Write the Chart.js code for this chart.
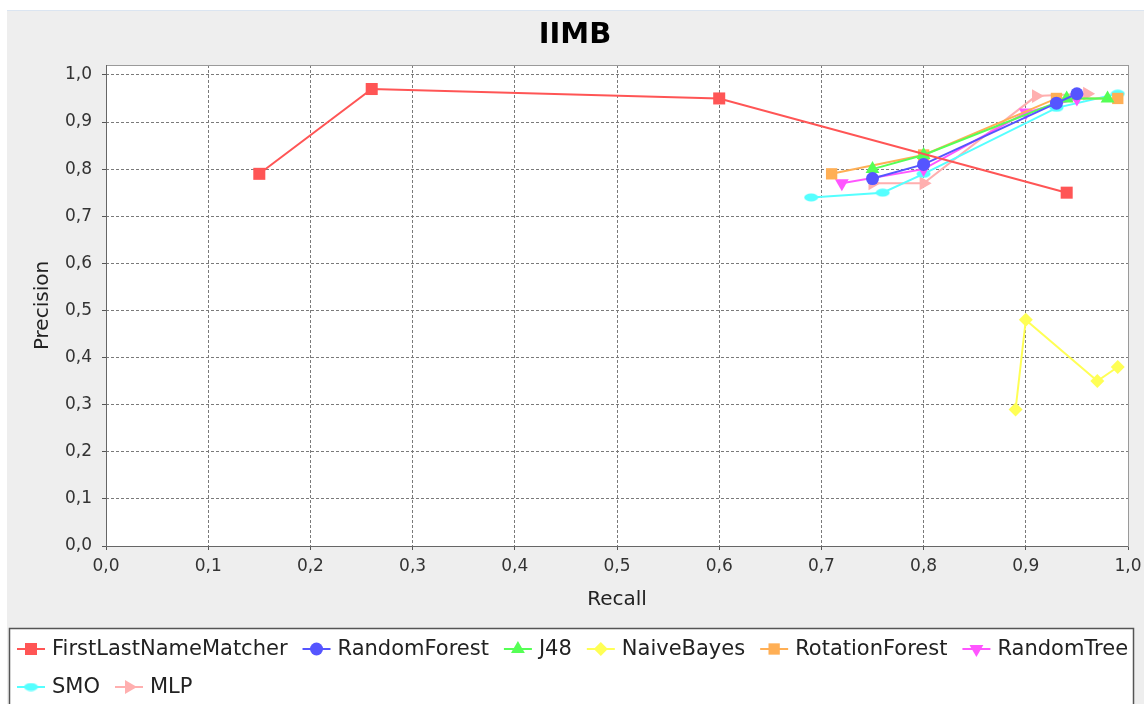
<!DOCTYPE html>
<html>
<head>
<meta charset="utf-8">
<title>IIMB</title>
<script src="https://cdn.jsdelivr.net/npm/chart.js@4/dist/chart.umd.min.js"></script>
<style>
  html, body { margin: 0; padding: 0; background: #ffffff; }
  #wrap { position: absolute; left: 0; top: 0; width: 1144px; height: 704px; }
</style>
</head>
<body>
<div id="wrap"><canvas id="chart" width="1144" height="704"></canvas></div>
<script>
// ── Data (recall on x, precision on y) ────────────────────────────────────
const seriesNames = ['FirstLastNameMatcher', 'RandomForest', 'J48', 'NaiveBayes',
    'RotationForest', 'RandomTree', 'SMO', 'MLP'];

const firstLastRecall    = [0.15, 0.26, 0.60, 0.94];
const firstLastPrecision = [0.79, 0.97, 0.95, 0.75];

const randomForestRecall    = [0.75, 0.80, 0.93, 0.95];
const randomForestPrecision = [0.78, 0.81, 0.94, 0.96];

const j48Recall    = [0.75, 0.80, 0.94, 0.98];
const j48Precision = [0.80, 0.83, 0.95, 0.95];

const naiveBayesRecall    = [0.89, 0.90, 0.97, 0.99];
const naiveBayesPrecision = [0.29, 0.48, 0.35, 0.38];

const rotationForestRecall    = [0.71, 0.80, 0.93, 0.99];
const rotationForestPrecision = [0.79, 0.83, 0.95, 0.95];

const randomTreeRecall    = [0.72, 0.80, 0.90, 0.95];
const randomTreePrecision = [0.77, 0.80, 0.92, 0.95];

const smoRecall    = [0.69, 0.76, 0.80, 0.93, 0.99];
const smoPrecision = [0.74, 0.75, 0.79, 0.93, 0.96];

const mlpRecall    = [0.75, 0.80, 0.91, 0.96];
const mlpPrecision = [0.77, 0.77, 0.955, 0.96];

const xTickValues = [0, 0.1, 0.2, 0.3, 0.4, 0.5, 0.6, 0.7, 0.8, 0.9, 1.0];
const yTickValues = [0, 0.1, 0.2, 0.3, 0.4, 0.5, 0.6, 0.7, 0.8, 0.9, 1.0];

const FONT = '"DejaVu Sans", Verdana, sans-serif';
const PLOT = { left: 106, top: 65, right: 1128, bottom: 546 };

// small horizontal ellipse marker used by SMO
function ellipseMarker(color) {
    const c = document.createElement('canvas');
    c.width = 15; c.height = 9;
    const g = c.getContext('2d');
    g.fillStyle = color;
    g.beginPath();
    g.ellipse(7.5, 4.5, 7, 4, 0, 0, Math.PI * 2);
    g.fill();
    return c;
}

const zip = (xs, ys) => xs.map((x, i) => ({ x, y: ys[i] }));

const styles = [
    { color: '#ff5555', pointStyle: 'rect',     radius: 8.5, rotation: 0 },
    { color: '#5555ff', pointStyle: 'circle',   radius: 6.5, rotation: 0 },
    { color: '#55ff55', pointStyle: 'triangle', radius: 8,   rotation: 0 },
    { color: '#ffff55', pointStyle: 'rectRot',  radius: 7,   rotation: 0 },
    { color: '#ffaf55', pointStyle: 'rect',     radius: 8,   rotation: 0 },
    { color: '#ff55ff', pointStyle: 'triangle', radius: 8,   rotation: 180 },
    { color: '#55ffff', pointStyle: ellipseMarker('#55ffff'), radius: 7, rotation: 0 },
    { color: '#ffafaf', pointStyle: 'triangle', radius: 8,   rotation: 90 },
];

const seriesData = [
    zip(firstLastRecall, firstLastPrecision),
    zip(randomForestRecall, randomForestPrecision),
    zip(j48Recall, j48Precision),
    zip(naiveBayesRecall, naiveBayesPrecision),
    zip(rotationForestRecall, rotationForestPrecision),
    zip(randomTreeRecall, randomTreePrecision),
    zip(smoRecall, smoPrecision),
    zip(mlpRecall, mlpPrecision),
];

const datasets = seriesNames.map((name, i) => ({
    label: name,
    data: seriesData[i],
    showLine: true,
    borderColor: styles[i].color,
    backgroundColor: styles[i].color,
    borderWidth: 2,
    pointStyle: styles[i].pointStyle,
    pointRadius: styles[i].radius,
    pointRotation: styles[i].rotation,
    pointBorderWidth: 0,
    pointBackgroundColor: styles[i].color,
}));

// ── Marker drawing for the legend ─────────────────────────────────────────
function drawMarker(ctx, st, x, y) {
    ctx.save();
    ctx.fillStyle = st.color;
    const r = st.radius;
    const rad = st.rotation * Math.PI / 180;
    ctx.beginPath();
    if (typeof st.pointStyle !== 'string') {
        ctx.drawImage(st.pointStyle, x - st.pointStyle.width / 2, y - st.pointStyle.height / 2);
        ctx.restore();
        return;
    }
    if (st.pointStyle === 'circle') {
        ctx.arc(x, y, r, 0, Math.PI * 2);
    } else if (st.pointStyle === 'rect') {
        const s = Math.SQRT1_2 * r;
        ctx.rect(x - s, y - s, 2 * s, 2 * s);
    } else if (st.pointStyle === 'rectRot') {
        ctx.moveTo(x, y - r); ctx.lineTo(x + r, y); ctx.lineTo(x, y + r); ctx.lineTo(x - r, y);
        ctx.closePath();
    } else if (st.pointStyle === 'triangle') {
        let a = rad;
        ctx.moveTo(x + Math.sin(a) * r, y - Math.cos(a) * r);
        a += 2 * Math.PI / 3;
        ctx.lineTo(x + Math.sin(a) * r, y - Math.cos(a) * r);
        a += 2 * Math.PI / 3;
        ctx.lineTo(x + Math.sin(a) * r, y - Math.cos(a) * r);
        ctx.closePath();
    }
    ctx.fill();
    ctx.restore();
}

// ── Plugins: panel background, plot outline, title, legend ────────────────
const framePlugin = {
    id: 'frame',
    beforeDraw(chart) {
        const { ctx, chartArea: a } = chart;
        ctx.save();
        ctx.fillStyle = '#ffffff';
        ctx.fillRect(0, 0, chart.width, chart.height);
        ctx.fillStyle = '#eeeeee';
        ctx.fillRect(7, 10, chart.width - 7, chart.height - 10);
        ctx.fillStyle = '#dbe5f1';
        ctx.fillRect(7, 10, chart.width - 7, 1);
        ctx.fillStyle = '#ffffff';
        ctx.fillRect(a.left, a.top, a.right - a.left, a.bottom - a.top);

        ctx.fillStyle = '#000000';
        ctx.font = 'bold 29px ' + FONT;
        ctx.textAlign = 'center';
        ctx.textBaseline = 'middle';
        ctx.fillText('IIMB', 575, 35);
        ctx.restore();
    },
    beforeDatasetsDraw(chart) {
        const { ctx, chartArea: a } = chart;
        ctx.save();
        ctx.strokeStyle = '#9a9a9a';
        ctx.lineWidth = 1;
        ctx.strokeRect(a.left + 0.5, a.top + 0.5, a.right - a.left, a.bottom - a.top);
        ctx.strokeStyle = '#666666';
        ctx.beginPath();
        ctx.moveTo(a.left + 0.5, a.top);
        ctx.lineTo(a.left + 0.5, a.bottom + 0.5);
        ctx.lineTo(a.right, a.bottom + 0.5);
        ctx.stroke();
        ctx.restore();
    },
    afterDraw(chart) {
        const { ctx } = chart;
        ctx.save();
        ctx.fillStyle = '#ffffff';
        ctx.fillRect(9, 628, 1125, 90);
        ctx.strokeStyle = '#555555';
        ctx.lineWidth = 1.5;
        ctx.strokeRect(9.5, 628.5, 1124, 90);

        ctx.font = '21px ' + FONT;
        ctx.textBaseline = 'middle';
        ctx.textAlign = 'left';
        let x = 17;
        let y = 649;
        seriesNames.forEach((name, i) => {
            const w = 35 + ctx.measureText(name).width;
            if (x + w > 1132) { x = 17; y += 38; }
            const st = styles[i];
            ctx.strokeStyle = st.color;
            ctx.lineWidth = 2;
            ctx.beginPath();
            ctx.moveTo(x, y);
            ctx.lineTo(x + 28, y);
            ctx.stroke();
            drawMarker(ctx, st, x + 14, y);
            ctx.fillStyle = '#222222';
            ctx.fillText(name, x + 35, y + 1);
            x += w + 15;
        });
        ctx.restore();
    },
};

const commaLabel = (v) => v.toFixed(1).replace('.', ',');

const gridOpts = {
    color: '#7a7a7a',
    lineWidth: 1,
    drawTicks: true,
    tickLength: 4,
    tickColor: '#555555',
    tickBorderDash: [],
};

new Chart(document.getElementById('chart'), {
    type: 'scatter',
    data: { datasets },
    plugins: [framePlugin],
    options: {
        responsive: false,
        animation: false,
        events: [],
        layout: {
            padding: { left: PLOT.left - 80, top: PLOT.top, right: 1144 - PLOT.right, bottom: 704 - PLOT.bottom - 66 },
        },
        plugins: {
            legend: { display: false },
            title: { display: false },
            tooltip: { enabled: false },
        },
        scales: {
            x: {
                type: 'linear',
                min: 0,
                max: 1,
                afterFit: (s) => { s.height = 66; s.paddingLeft = 0; s.paddingRight = 0; },
                afterBuildTicks: (s) => { s.ticks = xTickValues.map((v) => ({ value: v })); },
                ticks: {
                    padding: 6,
                    color: '#333333',
                    font: { family: FONT, size: 17 },
                    callback: commaLabel,
                },
                grid: gridOpts,
                border: { display: false, dash: [3, 2] },
                title: {
                    display: true,
                    text: 'Recall',
                    color: '#222222',
                    font: { family: FONT, size: 20 },
                    padding: { top: 0, bottom: 0 },
                },
            },
            y: {
                type: 'linear',
                min: 0,
                max: 1.021,
                afterFit: (s) => { s.width = 80; s.paddingTop = 0; s.paddingBottom = 0; },
                afterBuildTicks: (s) => { s.ticks = yTickValues.map((v) => ({ value: v })); },
                ticks: {
                    padding: 10,
                    color: '#333333',
                    font: { family: FONT, size: 17 },
                    callback: commaLabel,
                },
                grid: gridOpts,
                border: { display: false, dash: [3, 2] },
                title: {
                    display: true,
                    text: 'Precision',
                    color: '#222222',
                    font: { family: FONT, size: 20 },
                    padding: { top: 5, bottom: 0 },
                },
            },
        },
    },
});
</script>
</body>
</html>
